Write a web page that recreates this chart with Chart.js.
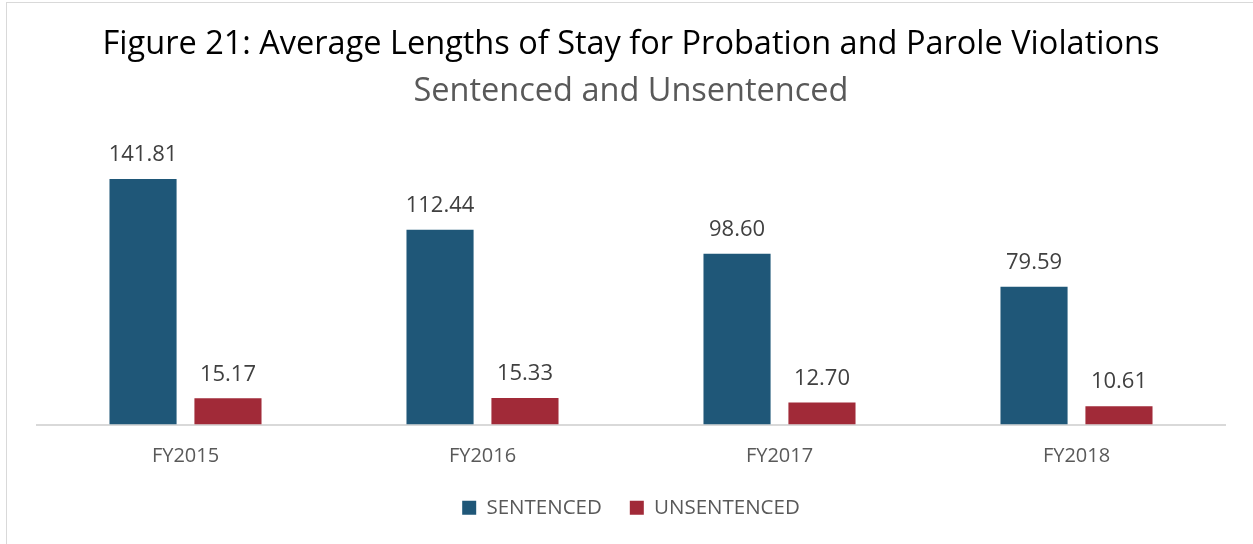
<!DOCTYPE html>
<html>
<head>
<meta charset="utf-8">
<script src="https://cdn.jsdelivr.net/npm/chart.js@4"></script>
<style>
  html, body { margin: 0; padding: 0; background: #fff; overflow: hidden; }
  #frame { position: absolute; left: 6px; top: 2px; width: 1400px; height: 700px; border: 1px solid #d9d9d9; }
  #wrap { position: absolute; left: 0; top: 0; width: 1253px; height: 544px; }
</style>
</head>
<body>
<div id="frame"></div>
<div id="wrap"><canvas id="chart" width="1253" height="544"></canvas></div>
<script>
const categories = ['FY2015', 'FY2016', 'FY2017', 'FY2018'];
const sentenced = [141.81, 112.44, 98.60, 79.59];
const unsentenced = [15.17, 15.33, 12.70, 10.61];

const FONT = 'Open Sans';

// value labels above the bars (no datalabels plugin available offline)
const barValues = {
  id: 'barValues',
  afterDatasetsDraw(chart) {
    const c = chart.ctx;
    c.save();
    c.font = '22px "' + FONT + '"';
    c.fillStyle = '#404040';
    c.textAlign = 'center';
    c.textBaseline = 'middle';
    chart.data.datasets.forEach((ds, i) => {
      chart.getDatasetMeta(i).data.forEach((bar, j) => {
        c.fillText(ds.data[j].toFixed(2), bar.x, bar.y - 24);
      });
    });
    c.restore();
  }
};

const ctx = document.getElementById('chart').getContext('2d');
new Chart(ctx, {
  type: 'bar',
  data: {
    labels: categories,
    datasets: [{
      label: 'SENTENCED',
      data: sentenced,
      backgroundColor: 'rgb(31,87,120)',
      barPercentage: 0.79,
      categoryPercentage: 0.572
    }, {
      label: 'UNSENTENCED',
      data: unsentenced,
      backgroundColor: 'rgb(161,42,56)',
      barPercentage: 0.79,
      categoryPercentage: 0.572
    }]
  },
  options: {
    responsive: false,
    animation: false,
    layout: { padding: { left: 37, right: 28, top: 25, bottom: 16 } },
    scales: {
      x: {
        grid: { display: false },
        border: { color: '#d9d9d9', width: 2 },
        ticks: { color: '#595959', font: { family: FONT, size: 20 }, padding: 12 },
        afterFit(scale) { scale.height -= 11; }
      },
      y: {
        display: false,
        min: 0,
        max: 160
      }
    },
    plugins: {
      title: {
        display: true,
        text: 'Figure 21: Average Lengths of Stay for Probation and Parole Violations',
        color: '#000',
        font: { family: FONT, size: 32.5, weight: 'normal' },
        padding: { top: 0, bottom: 8.5 }
      },
      subtitle: {
        display: true,
        text: 'Sentenced and Unsentenced',
        color: '#595959',
        font: { family: FONT, size: 32.5, weight: 'normal' },
        padding: { top: 0, bottom: 36 }
      },
      legend: {
        position: 'bottom',
        labels: {
          color: '#595959',
          font: { family: FONT, size: 20.5 },
          boxWidth: 14,
          boxHeight: 14,
          padding: 28
        }
      },
      tooltip: { enabled: false }
    }
  },
  plugins: [barValues]
});
</script>
</body>
</html>
